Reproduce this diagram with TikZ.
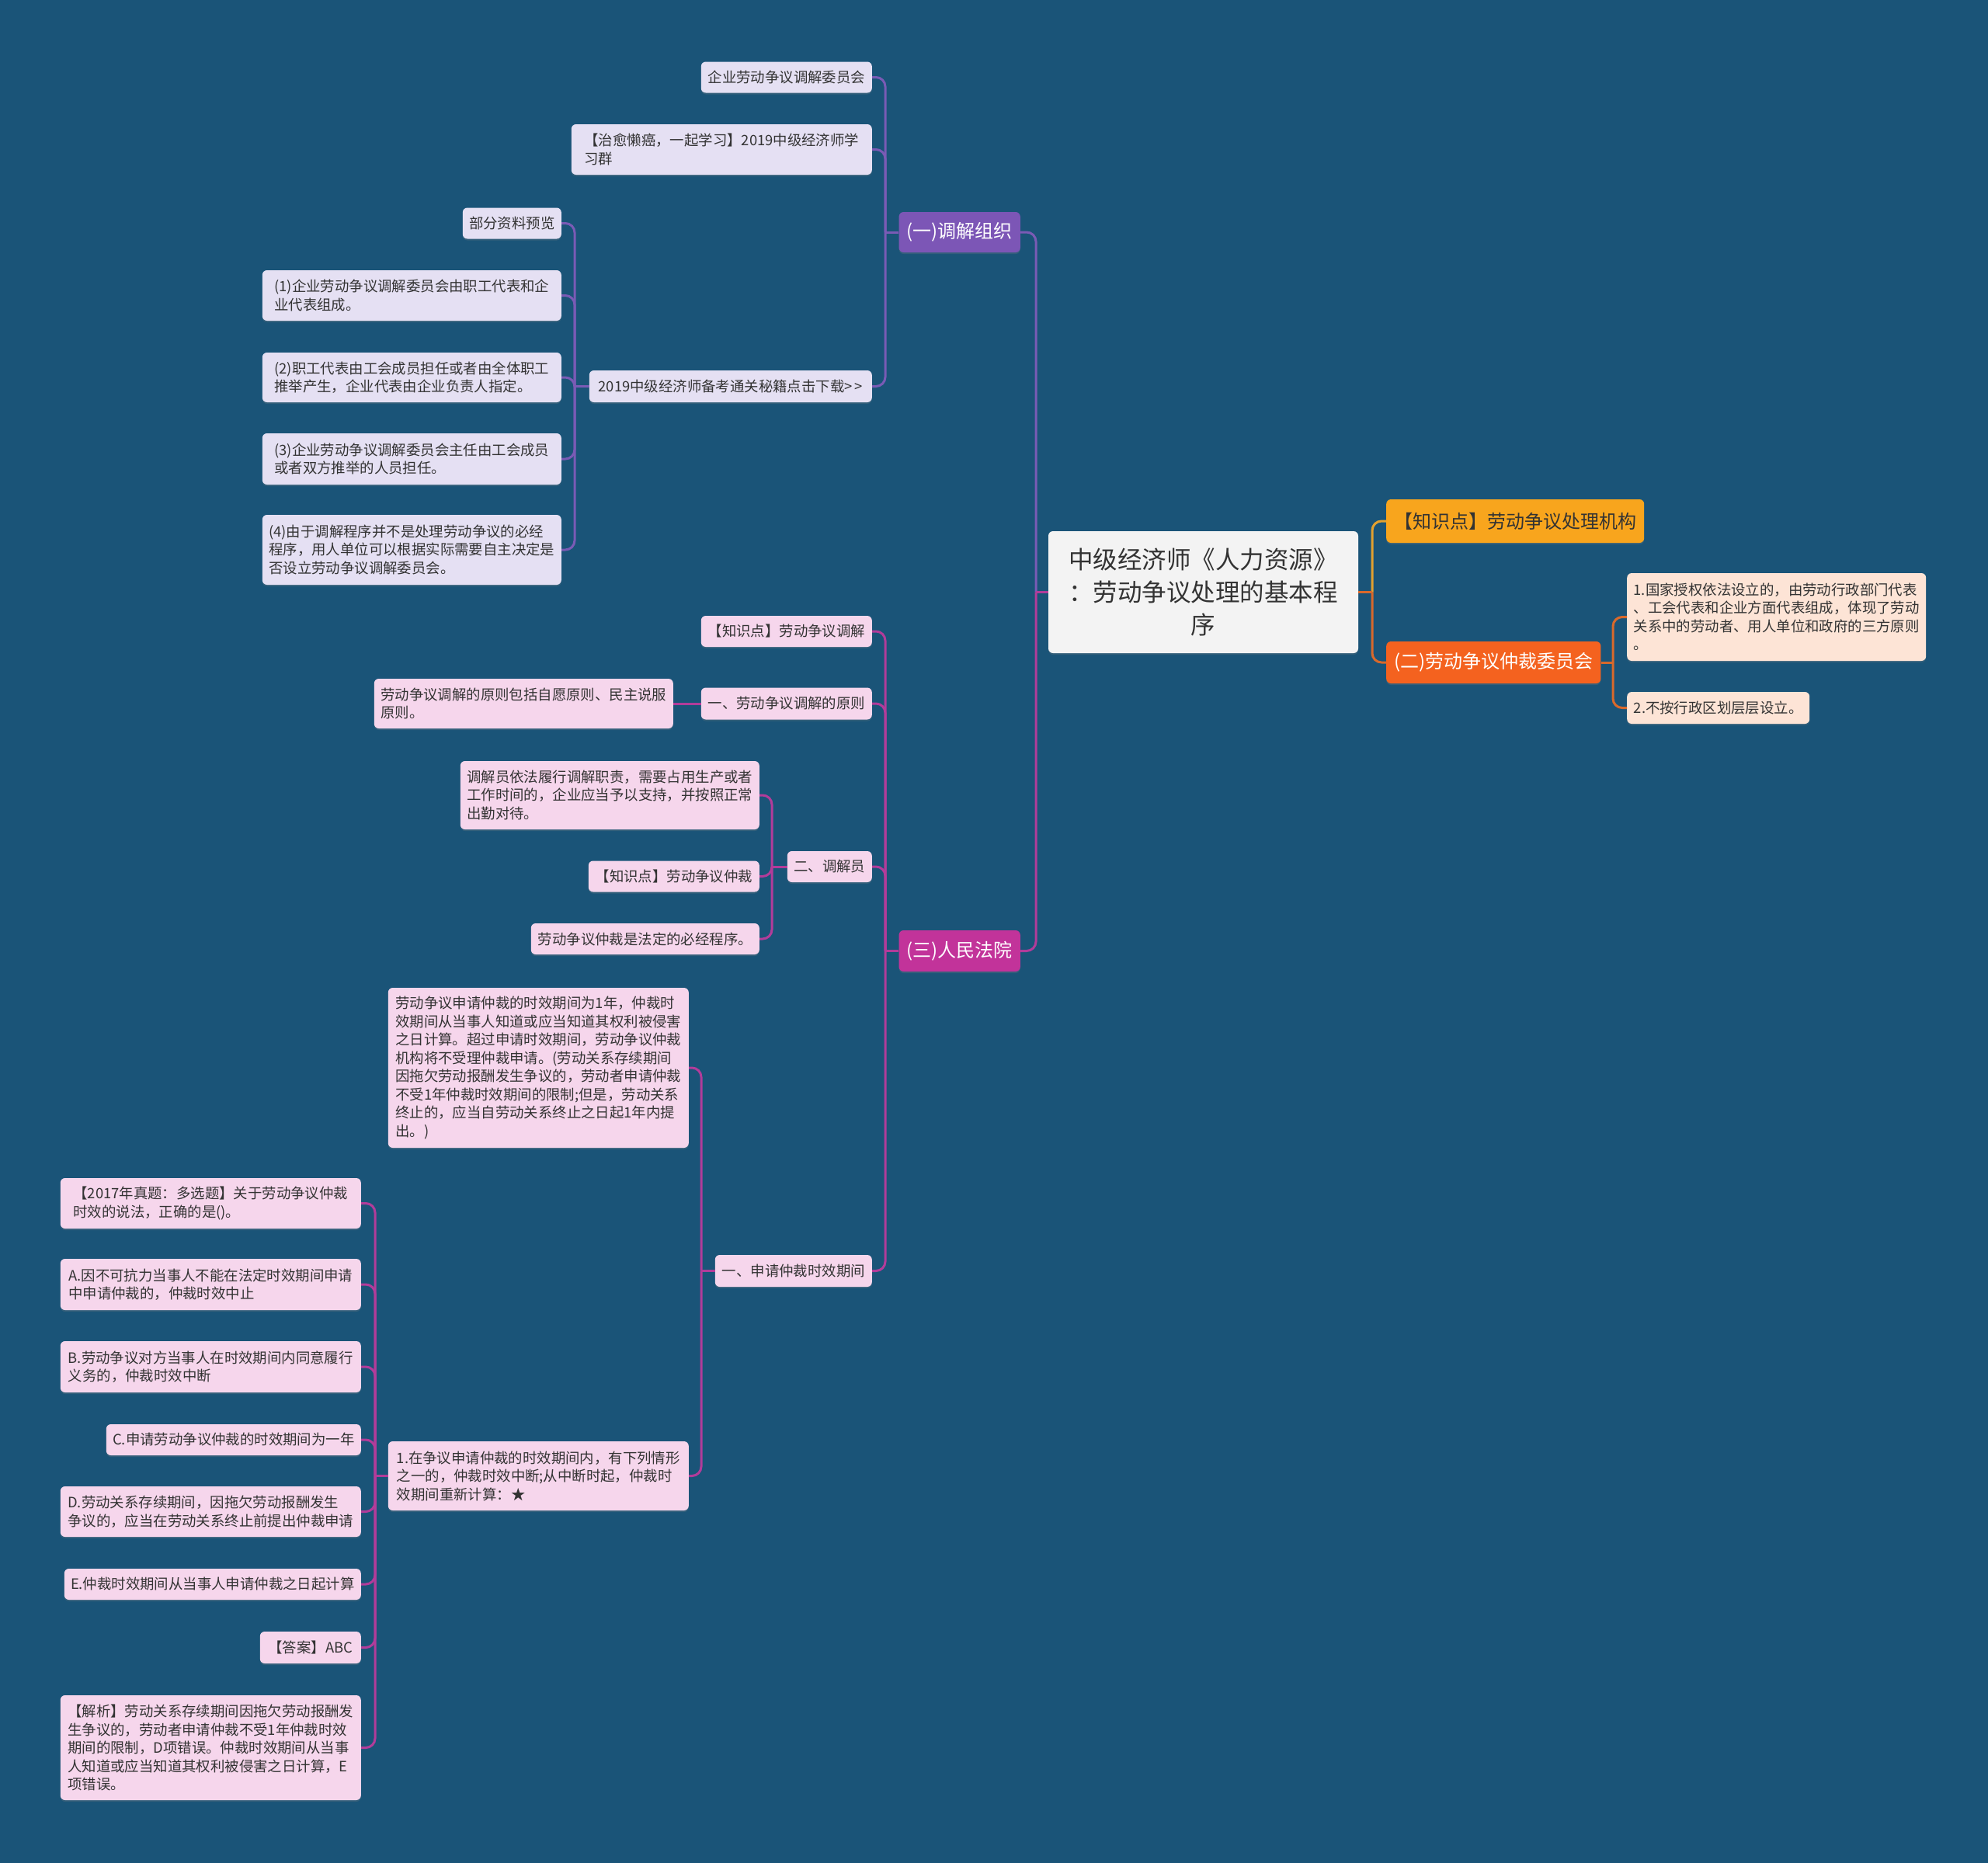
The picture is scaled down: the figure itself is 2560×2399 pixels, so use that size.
\documentclass[tikz,border=0pt]{standalone}
\usepackage{fontspec}
\setmainfont{Noto Sans CJK SC}
\usetikzlibrary{shadows}
\definecolor{bg}{HTML}{1A5478}
\definecolor{txt}{HTML}{333333}
\definecolor{purpleA}{HTML}{7C56B6}
\definecolor{lav}{HTML}{E5E0F3}
\definecolor{magA}{HTML}{C2339A}
\definecolor{pinkA}{HTML}{F6D6EC}
\definecolor{yelA}{HTML}{F8A51D}
\definecolor{oraA}{HTML}{F4621F}
\definecolor{peach}{HTML}{FDE4D6}
\definecolor{rootfill}{HTML}{F3F3F3}
\definecolor{lnPurple}{HTML}{7A5BB5}
\definecolor{lnMag}{HTML}{B23C9A}
\definecolor{lnYel}{HTML}{E3A12F}
\definecolor{lnOra}{HTML}{D9692B}
\newcommand\linkL[4]{%
  \draw[#1] (#2.west) -- (#4 |- #2.west);
  \draw[#1, rounded corners=12pt] (#4 |- #2.west) |- (#3.east);}
\newcommand\linkR[4]{%
  \draw[#1] (#2.east) -- (#4 |- #2.east);
  \draw[#1, rounded corners=12pt] (#4 |- #2.east) |- (#3.west);}
\begin{document}
\begin{tikzpicture}[x=1pt,y=-1pt,
  basebox/.style={rounded corners=6pt, inner xsep=7pt, inner ysep=6pt,
    drop shadow={opacity=0.25, shadow xshift=0pt, shadow yshift=-2pt}},
  smallbox/.style={basebox, font=\fontsize{18.4}{23.5}\selectfont, text=txt, align=left, minimum height=40pt},
  pbox/.style={smallbox, fill=lav},
  mbox/.style={smallbox, fill=pinkA},
  obox/.style={smallbox, fill=peach},
  lvlone/.style={basebox, font=\fontsize{24}{30}\selectfont, text=white, inner xsep=10pt},
  ln/.style={line width=3pt},
  lp/.style={ln, draw=lnPurple},
  lm/.style={ln, draw=lnMag},
  ly/.style={ln, draw=lnYel},
  lo/.style={ln, draw=lnOra}]
\fill[bg] (0,0) rectangle (2560,2399);
\useasboundingbox (0,0) rectangle (2560,2399);

% trunks
\coordinate (tRL) at (1334,0);
\coordinate (tRR) at (1767,0);
\coordinate (tA) at (1140,0);
\coordinate (tB) at (740,0);
\coordinate (tC) at (1140,0);
\coordinate (tE) at (994,0);
\coordinate (tF) at (903,0);
\coordinate (tG) at (483,0);
\coordinate (tP) at (2077,0);

% root
\node[basebox, fill=rootfill, text=txt, font=\fontsize{31.5}{42}\selectfont, align=center,
  minimum width=399pt, minimum height=157pt] (root) at (1549.5,762.5)
  {中级经济师《人力资源》\\：劳动争议处理的基本程\\序};

% level one
\node[lvlone, fill=purpleA, anchor=east, minimum width=156pt, minimum height=52pt] (L1a) at (1314,299) {(一)调解组织};
\node[lvlone, fill=magA, anchor=east, minimum width=156pt, minimum height=53pt] (L1c) at (1314,1224.5) {(三)人民法院};
\node[lvlone, fill=yelA, text=txt, anchor=west, minimum width=329pt, minimum height=56pt] (R1) at (1785,671) {【知识点】劳动争议处理机构};
\node[lvlone, fill=oraA, anchor=west, minimum width=274pt, minimum height=54pt] (R2) at (1785,853) {(二)劳动争议仲裁委员会};

% right children
\node[obox, anchor=west, minimum width=385pt, minimum height=113pt] (p1) at (2095,794.5)
  {1.国家授权依法设立的，由劳动行政部门代表\\、工会代表和企业方面代表组成，体现了劳动\\关系中的劳动者、用人单位和政府的三方原则\\。};
\node[obox, anchor=west, minimum width=235pt, minimum height=41pt] (p2) at (2095,911.5) {2.不按行政区划层层设立。};

% children of (一)
\node[pbox, anchor=east, minimum width=220pt] (a1) at (1123,99.5) {企业劳动争议调解委员会};
\node[pbox, anchor=east, minimum width=387pt, minimum height=65pt] (a2) at (1123,192.5) {【治愈懒癌，一起学习】2019中级经济师学\\习群};
\node[pbox, anchor=east, minimum width=364pt, minimum height=41pt] (a3) at (1123,497.5) {2019中级经济师备考通关秘籍点击下载>\,>};
\node[pbox, anchor=east, minimum width=127pt] (b1) at (723,287.5) {部分资料预览};
\node[pbox, anchor=east, minimum width=385pt, minimum height=65pt] (b2) at (723,380.5) {(1)企业劳动争议调解委员会由职工代表和企\\业代表组成。};
\node[pbox, anchor=east, minimum width=385pt, minimum height=64pt] (b3) at (723,486) {(2)职工代表由工会成员担任或者由全体职工\\推举产生，企业代表由企业负责人指定。};
\node[pbox, anchor=east, minimum width=385pt, minimum height=66pt] (b4) at (723,591) {(3)企业劳动争议调解委员会主任由工会成员\\或者双方推举的人员担任。};
\node[pbox, anchor=east, minimum width=385pt, minimum height=90pt] (b5) at (723,708) {(4)由于调解程序并不是处理劳动争议的必经\\程序，用人单位可以根据实际需要自主决定是\\否设立劳动争议调解委员会。};

% children of (三)
\node[mbox, anchor=east, minimum width=220pt] (c1) at (1123,813) {【知识点】劳动争议调解};
\node[mbox, anchor=east, minimum width=220pt, minimum height=41pt] (c2) at (1123,906) {一、劳动争议调解的原则};
\node[mbox, anchor=east, minimum width=385pt, minimum height=64pt] (d1) at (867,906) {劳动争议调解的原则包括自愿原则、民主说服\\原则。};
\node[mbox, anchor=east, minimum width=109pt] (c3) at (1123,1116) {二、调解员};
\node[mbox, anchor=east, minimum width=385pt, minimum height=88pt] (e1) at (978,1024) {调解员依法履行调解职责，需要占用生产或者\\工作时间的，企业应当予以支持，并按照正常\\出勤对待。};
\node[mbox, anchor=east, minimum width=220pt] (e2) at (978,1128.5) {【知识点】劳动争议仲裁};
\node[mbox, anchor=east, minimum width=294pt] (e3) at (978,1209) {劳动争议仲裁是法定的必经程序。};
\node[mbox, anchor=east, minimum width=202pt, minimum height=41pt] (c4) at (1123,1636.5) {一、申请仲裁时效期间};
\node[mbox, anchor=east, minimum width=387pt, minimum height=206pt] (f1) at (887,1375)
  {劳动争议申请仲裁的时效期间为1年，仲裁时\\效期间从当事人知道或应当知道其权利被侵害\\之日计算。超过申请时效期间，劳动争议仲裁\\机构将不受理仲裁申请。(劳动关系存续期间\\因拖欠劳动报酬发生争议的，劳动者申请仲裁\\不受1年仲裁时效期间的限制;但是，劳动关系\\终止的，应当自劳动关系终止之日起1年内提\\出。)};
\node[mbox, anchor=east, minimum width=387pt, minimum height=89pt] (f2) at (887,1900.5)
  {1.在争议申请仲裁的时效期间内，有下列情形\\之一的，仲裁时效中断;从中断时起，仲裁时\\效期间重新计算：★};
\node[mbox, anchor=east, minimum width=387pt, minimum height=65pt] (g1) at (465,1549.5) {【2017年真题：多选题】关于劳动争议仲裁\\时效的说法，正确的是()。};
\node[mbox, anchor=east, minimum width=387pt, minimum height=66pt] (g2) at (465,1654) {A.因不可抗力当事人不能在法定时效期间申请\\中申请仲裁的，仲裁时效中止};
\node[mbox, anchor=east, minimum width=387pt, minimum height=66pt] (g3) at (465,1760) {B.劳动争议对方当事人在时效期间内同意履行\\义务的，仲裁时效中断};
\node[mbox, anchor=east, minimum width=328pt] (g4) at (465,1854) {C.申请劳动争议仲裁的时效期间为一年};
\node[mbox, anchor=east, minimum width=387pt, minimum height=65pt] (g5) at (465,1946.5) {D.劳动关系存续期间，因拖欠劳动报酬发生\\争议的，应当在劳动关系终止前提出仲裁申请};
\node[mbox, anchor=east, minimum width=382pt] (g6) at (465,2040) {E.仲裁时效期间从当事人申请仲裁之日起计算};
\node[mbox, anchor=east, minimum width=130pt, minimum height=41pt] (g7) at (465,2121.5) {【答案】ABC};
\node[mbox, anchor=east, minimum width=387pt, minimum height=135pt] (g8) at (465,2250.5)
  {【解析】劳动关系存续期间因拖欠劳动报酬发\\生争议的，劳动者申请仲裁不受1年仲裁时效\\期间的限制，D项错误。仲裁时效期间从当事\\人知道或应当知道其权利被侵害之日计算，E\\项错误。};

% connectors
\linkL{lp}{root}{L1a}{tRL}
\linkL{lm}{root}{L1c}{tRL}
\linkR{ly}{root}{R1}{tRR}
\linkR{lo}{root}{R2}{tRR}
\linkR{lo}{R2}{p1}{tP}
\linkR{lo}{R2}{p2}{tP}

\linkL{lp}{L1a}{a1}{tA}
\linkL{lp}{L1a}{a2}{tA}
\linkL{lp}{L1a}{a3}{tA}
\linkL{lp}{a3}{b1}{tB}
\linkL{lp}{a3}{b2}{tB}
\linkL{lp}{a3}{b3}{tB}
\linkL{lp}{a3}{b4}{tB}
\linkL{lp}{a3}{b5}{tB}

\linkL{lm}{L1c}{c1}{tC}
\linkL{lm}{L1c}{c2}{tC}
\linkL{lm}{L1c}{c3}{tC}
\linkL{lm}{L1c}{c4}{tC}
\draw[lm] (c2.west) -- (d1.east);
\linkL{lm}{c3}{e1}{tE}
\linkL{lm}{c3}{e2}{tE}
\linkL{lm}{c3}{e3}{tE}
\linkL{lm}{c4}{f1}{tF}
\linkL{lm}{c4}{f2}{tF}
\linkL{lm}{f2}{g1}{tG}
\linkL{lm}{f2}{g2}{tG}
\linkL{lm}{f2}{g3}{tG}
\linkL{lm}{f2}{g4}{tG}
\linkL{lm}{f2}{g5}{tG}
\linkL{lm}{f2}{g6}{tG}
\linkL{lm}{f2}{g7}{tG}
\linkL{lm}{f2}{g8}{tG}
\end{tikzpicture}
\end{document}
